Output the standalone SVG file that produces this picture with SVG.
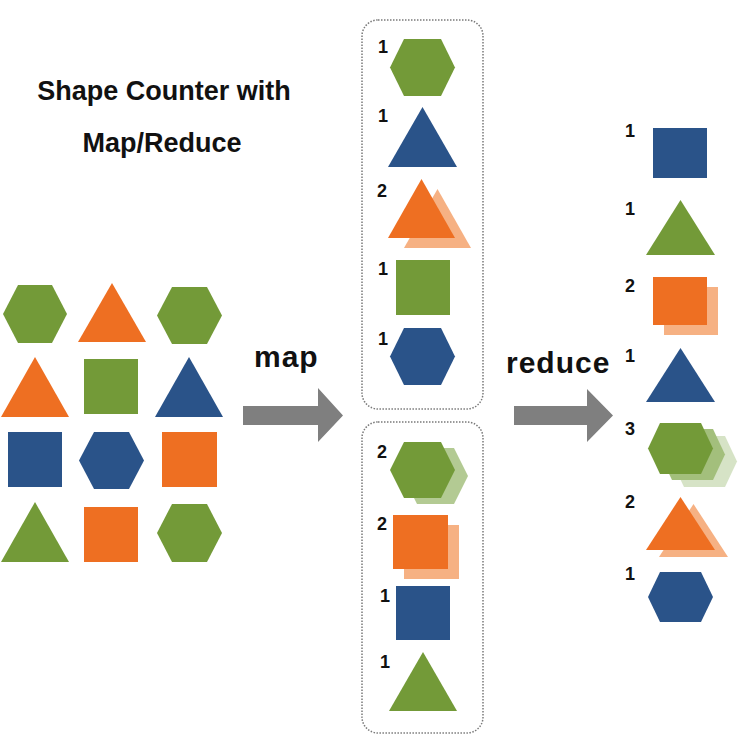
<svg xmlns="http://www.w3.org/2000/svg" width="738" height="750" viewBox="0 0 738 750">
<style>
.g{fill:#739a38}
.o{fill:#ee6f22}
.b{fill:#2a5389}
.lo{fill:#f6b183}
.lg{fill:#b3ca93}
.lg2{fill:#a3bf7c}
.lg3{fill:#d6e3c6}
.box{fill:none;stroke:#7a7a7a;stroke-width:1.5;stroke-dasharray:1.5 1.5}
.arrow{fill:#7f7f7f}
.t{font-family:"Liberation Sans",Arial,sans-serif;font-weight:bold;fill:#111}
.title{font-size:27px;text-anchor:middle}
.lab{font-size:30px;letter-spacing:1px}
.n{font-size:18px}
</style>
<rect width="738" height="750" fill="#fff"/>
<g id="title">
<text class="t title" x="164" y="100">Shape Counter with</text>
<text class="t title" x="162" y="152">Map/Reduce</text>
</g>
<g id="input">
<polygon class="g" points="18,285 52,285 67,314 52,343 18,343 3,314"/>
<polygon class="o" points="112,283 78,342 146,342"/>
<polygon class="g" points="172,287 207,287 222,315.5 207,344 172,344 157,315.5"/>
<polygon class="o" points="35,357 1,417 69,417"/>
<rect class="g" x="84" y="359" width="54" height="55"/>
<polygon class="b" points="189,357 155,417 223,417"/>
<rect class="b" x="8" y="432" width="54" height="55"/>
<polygon class="b" points="94,432 129,432 144,460.5 129,489 94,489 79,460.5"/>
<rect class="o" x="162" y="432" width="55" height="55"/>
<polygon class="g" points="35,502 1,562 69,562"/>
<rect class="o" x="84" y="507" width="54" height="55"/>
<polygon class="g" points="172,504 207,504 222,533 207,562 172,562 157,533"/>
</g>
<g id="connectors">
<polygon id="map-arrow" class="arrow" points="243,406 318,406 318,388 343,415.5 318,442 318,425 243,425"/>
<polygon id="reduce-arrow" class="arrow" points="514,406 587,406 587,389 613,415.5 587,442 587,425 514,425"/>
<text class="t lab" x="254" y="367">map</text>
<text class="t lab" x="506" y="373">reduce</text>
</g>
<g id="map-box-1">
<rect class="box" x="362" y="20" width="121" height="389" rx="16"/>
<text class="t n" x="378" y="53">1</text>
<polygon class="g" points="404,39 441,39 455,67.5 441,96 404,96 390,67.5"/>
<text class="t n" x="378" y="122">1</text>
<polygon class="b" points="422.5,107 388,167 457,167"/>
<text class="t n" x="377" y="197">2</text>
<polygon class="lo" points="437.5,189 404,248 471,248"/>
<polygon class="o" points="421.5,179 388,238 455,238"/>
<text class="t n" x="378" y="275">1</text>
<rect class="g" x="396" y="260" width="54" height="55"/>
<text class="t n" x="378" y="345">1</text>
<polygon class="b" points="404,328 441,328 455,356.5 441,385 404,385 390,356.5"/>
</g>
<g id="map-box-2">
<rect class="box" x="362" y="422" width="121" height="311" rx="16"/>
<text class="t n" x="377" y="458">2</text>
<polygon class="lg" points="417,448 454,448 468,476 454,504 417,504 403,476"/>
<polygon class="g" points="404,442 441,442 455,470 441,498 404,498 390,470"/>
<text class="t n" x="377" y="530">2</text>
<rect class="lo" x="404" y="525" width="55" height="54"/>
<rect class="o" x="393" y="515" width="55" height="54"/>
<text class="t n" x="380" y="602">1</text>
<rect class="b" x="396" y="586" width="54" height="54"/>
<text class="t n" x="380" y="668">1</text>
<polygon class="g" points="423,652 389,711 457,711"/>
</g>
<g id="reduce-output">
<text class="t n" x="625" y="137">1</text>
<rect class="b" x="653" y="128" width="54" height="50"/>
<text class="t n" x="625" y="215">1</text>
<polygon class="g" points="680.5,200 646,255 715,255"/>
<text class="t n" x="625" y="292">2</text>
<rect class="lo" x="664" y="287" width="54" height="48"/>
<rect class="o" x="653" y="277" width="54" height="48"/>
<text class="t n" x="625" y="362">1</text>
<polygon class="b" points="680.5,348 646,402 715,402"/>
<text class="t n" x="625" y="435">3</text>
<polygon class="lg3" points="684,436 725,436 737,461.5 725,487 684,487 672,461.5"/>
<polygon class="lg2" points="672,429 713,429 725,454.5 713,480 672,480 660,454.5"/>
<polygon class="g" points="660,423 701,423 713,448.5 701,474 660,474 648,448.5"/>
<text class="t n" x="625" y="508">2</text>
<polygon class="lo" points="693.5,504 659,557 728,557"/>
<polygon class="o" points="680.5,497 646,550 715,550"/>
<text class="t n" x="625" y="580">1</text>
<polygon class="b" points="660,572 701,572 713,597 701,622 660,622 648,597"/>
</g>
</svg>
